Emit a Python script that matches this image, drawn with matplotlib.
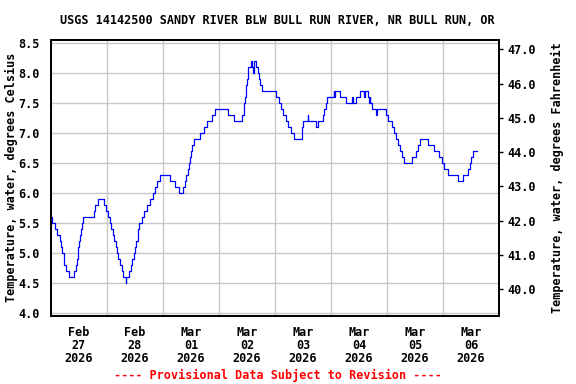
import datetime as dt
import matplotlib
matplotlib.use("Agg")
import matplotlib.pyplot as plt
from matplotlib.ticker import FixedLocator, FormatStrFormatter

# change points: hours after 2026-02-27 00:00, water temperature (deg C)
hours = [0, 0.6, 1.7, 2.6, 3.7, 4.3, 4.9, 5.4, 5.7, 6.6, 7.7, 10.0, 10.6, 11.1, 11.4,
         11.7, 12.1, 12.4, 12.9, 13.3, 13.9, 18.3, 18.9, 20.3, 22.9, 23.7, 24.3, 25.1,
         25.7, 26.6, 27.1, 27.7, 28.3, 28.9, 29.4, 30.3, 30.9, 32.0, 32.3, 33.4, 34.3,
         34.9, 35.4, 36.0, 36.6, 37.1, 37.4, 37.7, 38.9, 39.7, 41.1, 42.3, 43.7, 44.4,
         45.4, 46.6, 51.1, 53.1, 54.9, 56.6, 57.4, 58.0, 58.6, 59.1, 59.4, 60.0, 60.6,
         61.4, 64.0, 65.4, 66.9, 68.9, 70.3, 76.0, 78.3, 82.0, 82.6, 82.9, 83.1, 83.4,
         84.0, 84.3, 85.7, 86.0, 86.6, 87.1, 88.0, 88.9, 89.1, 89.7, 90.3, 96.6, 97.7,
         98.6, 99.4, 100.6, 101.7, 102.9, 104.0, 107.4, 107.7, 108.0, 110.0, 110.3,
         113.4, 114.6, 116.6, 117.1, 117.7, 118.3, 121.1, 121.4, 121.7, 124.0, 126.6,
         129.0, 129.3, 130.6, 132.6, 134.3, 134.6, 135.7, 136.3, 136.6, 136.9, 137.4,
         139.4, 139.7, 143.7, 144.6, 146.0, 146.9, 147.7, 148.6, 149.4, 150.3, 151.4,
         154.6, 156.6, 157.4, 158.3, 161.4, 164.0, 166.3, 167.4, 168.6, 170.3, 174.3,
         176.6, 178.6, 179.4, 180.0, 180.9, 182.6]
temps = [5.6, 5.5, 5.4, 5.3, 5.2, 5.1, 5.0, 4.9, 4.8, 4.7, 4.6, 4.7, 4.8, 4.9, 5.0,
         5.1, 5.2, 5.3, 5.4, 5.5, 5.6, 5.7, 5.8, 5.9, 5.8, 5.7, 5.6, 5.5,
         5.4, 5.3, 5.2, 5.1, 5.0, 4.9, 4.8, 4.7, 4.6, 4.5, 4.6, 4.7, 4.8,
         4.9, 5.0, 5.1, 5.2, 5.3, 5.4, 5.5, 5.6, 5.7, 5.8, 5.9, 6.0, 6.1,
         6.2, 6.3, 6.2, 6.1, 6.0, 6.1, 6.2, 6.3, 6.4, 6.5, 6.6, 6.7, 6.8,
         6.9, 7.0, 7.1, 7.2, 7.3, 7.4, 7.3, 7.2, 7.3, 7.4, 7.5, 7.6, 7.8,
         7.9, 8.1, 8.2, 8.1, 8.0, 8.2, 8.1, 8.0, 7.9, 7.8, 7.7, 7.6, 7.5,
         7.4, 7.3, 7.2, 7.1, 7.0, 6.9, 7.0, 7.1, 7.2, 7.3, 7.2,
         7.1, 7.2, 7.3, 7.4, 7.5, 7.6, 7.7, 7.6, 7.7, 7.6, 7.5,
         7.6, 7.5, 7.6, 7.7, 7.6, 7.7, 7.6, 7.5, 7.6, 7.5, 7.4,
         7.3, 7.4, 7.3, 7.2, 7.1, 7.0, 6.9, 6.8, 6.7, 6.6, 6.5,
         6.6, 6.7, 6.8, 6.9, 6.8, 6.7, 6.6, 6.5, 6.4, 6.3, 6.2,
         6.3, 6.4, 6.5, 6.6, 6.7, 6.7]

day_labels = ["Feb\n27\n2026", "Feb\n28\n2026", "Mar\n01\n2026", "Mar\n02\n2026",
              "Mar\n03\n2026", "Mar\n04\n2026", "Mar\n05\n2026", "Mar\n06\n2026"]
c_ticks = [4.0, 4.5, 5.0, 5.5, 6.0, 6.5, 7.0, 7.5, 8.0, 8.5]
f_ticks = [40.0, 41.0, 42.0, 43.0, 44.0, 45.0, 46.0, 47.0]

title = "USGS 14142500 SANDY RIVER BLW BULL RUN RIVER, NR BULL RUN, OR"

start = dt.datetime(2026, 2, 27)
times = [start + dt.timedelta(hours=h) for h in hours]

plt.rcParams['font.family'] = ['DejaVu Sans Mono']
plt.rcParams['font.weight'] = 'bold'
fs = 8.5

fig = plt.figure(figsize=(5.76, 3.84), dpi=100)
ax = fig.add_axes([51 / 576, 1 - 316 / 384, 448 / 576, (316 - 39.5) / 384])

ax.step(times, temps, where='post', color='#0000ff', lw=0.9)

ax.set_ylim(3.955, 8.55)
ax.set_xlim(start, start + dt.timedelta(days=8))

ax.yaxis.set_major_locator(FixedLocator(c_ticks))
ax.yaxis.set_major_formatter(FormatStrFormatter('%.1f'))
midnights = [start + dt.timedelta(days=d) for d in range(9)]
noons = [start + dt.timedelta(days=d, hours=12) for d in range(8)]
ax.set_xticks(midnights)
ax.set_xticklabels([])
ax.set_xticks(noons, minor=True)
ax.set_xticklabels(day_labels, minor=True, fontsize=fs, fontweight='bold',
                   linespacing=1.02)
ax.tick_params(axis='x', which='both', length=0, pad=7)
ax.tick_params(axis='y', length=0, pad=8, labelsize=fs)
ax.grid(True, which='major', color='#c8c8c8', lw=1.0)
ax.set_axisbelow(True)
for s in ax.spines.values():
    s.set_linewidth(1.3)

ax.set_ylabel("Temperature, water, degrees Celsius", fontsize=fs, fontweight='bold')
ax.yaxis.set_label_coords(-0.073, 0.5)

ax2 = ax.twinx()
ax2.set_ylim(39.21, 47.29)
ax2.yaxis.set_major_locator(FixedLocator(f_ticks))
ax2.yaxis.set_major_formatter(FormatStrFormatter('%.1f'))
ax2.tick_params(axis='y', length=3, width=1, pad=3, labelsize=fs)
ax2.set_ylabel("Temperature, water, degrees Fahrenheit", fontsize=fs,
               fontweight='bold')
ax2.yaxis.set_label_coords(1.116, 0.5)
for s in ax2.spines.values():
    s.set_linewidth(1.3)

fig.text(277 / 576, 1 - 20 / 384, title, ha='center', va='center', fontsize=fs,
         fontweight='bold')
fig.text(278 / 576, 1 - 375 / 384, "---- Provisional Data Subject to Revision ----",
         ha='center', va='center', fontsize=fs, fontweight='bold', color='#ff0000')

fig.savefig("out.png", dpi=100)
